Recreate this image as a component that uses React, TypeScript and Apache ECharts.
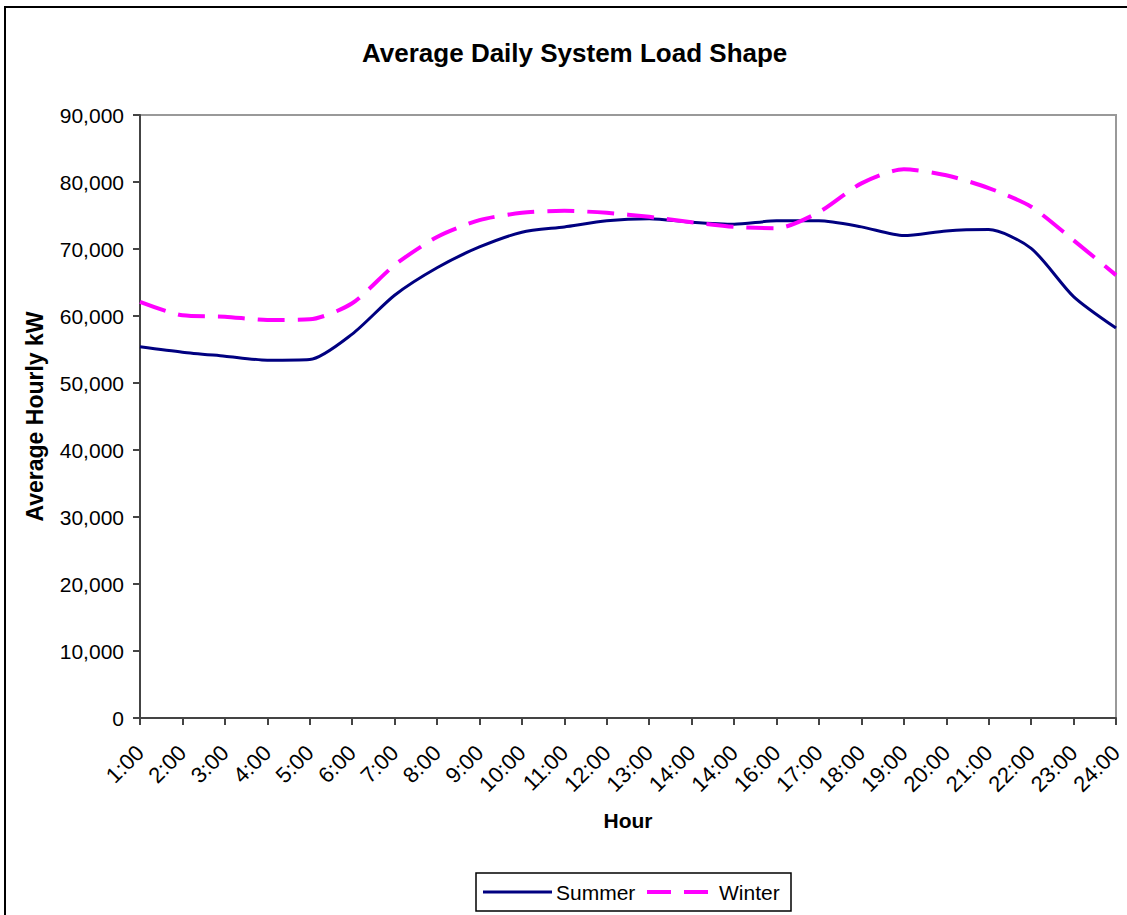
import React, { useEffect, useRef } from "react";
import * as echarts from "echarts";

const hours = [
  "1:00", "2:00", "3:00", "4:00", "5:00", "6:00", "7:00", "8:00", "9:00", "10:00",
  "11:00", "12:00", "13:00", "14:00", "14:00", "16:00", "17:00", "18:00", "19:00",
  "20:00", "21:00", "22:00", "23:00", "24:00",
];

const summer = [
  55400, 54600, 54000, 53400, 53500, 57300, 63100, 67200, 70300, 72500,
  73300, 74200, 74500, 74000, 73700, 74200, 74200, 73300, 72000, 72700,
  72900, 70100, 62900, 58200,
];

const winter = [
  62100, 60100, 59900, 59400, 59500, 61900, 67600, 71800, 74300, 75400,
  75700, 75400, 74800, 74000, 73300, 73100, 75500, 79800, 81900, 81000,
  79100, 76300, 71300, 66100,
];

const yTicks = { min: 0, max: 90000, interval: 10000 };

const FONT = "Liberation Sans, Arial, sans-serif";

export default function App() {
  const ref = useRef<HTMLDivElement>(null);
  useEffect(() => {
    if (!ref.current) return;
    const chart = echarts.init(ref.current, undefined, { renderer: "svg" });
    const legendY = 892;
    chart.setOption({
      animation: false,
      backgroundColor: "#ffffff",
      textStyle: { fontFamily: FONT },
      title: {
        text: "Average Daily System Load Shape",
        left: 357,
        top: 35,
        textStyle: { fontFamily: FONT, fontSize: 26, fontWeight: "bold", color: "#000" },
      },
      grid: {
        left: 140,
        top: 115,
        right: 11,
        bottom: 197,
        show: true,
        borderColor: "#999999",
        borderWidth: 2,
        backgroundColor: "transparent",
      },
      xAxis: {
        type: "category",
        data: hours,
        boundaryGap: false,
        name: "Hour",
        nameLocation: "middle",
        nameGap: 92,
        nameTextStyle: { fontFamily: FONT, fontSize: 21, fontWeight: "bold", color: "#000" },
        axisLine: { lineStyle: { color: "#444", width: 2 } },
        axisTick: { show: true, length: 7, alignWithLabel: true, lineStyle: { color: "#444", width: 2 } },
        axisLabel: {
          rotate: 45,
          interval: 0,
          margin: 31,
          fontFamily: FONT,
          fontSize: 22,
          color: "#000",
        },
        splitLine: { show: false },
      },
      yAxis: {
        type: "value",
        min: yTicks.min,
        max: yTicks.max,
        interval: yTicks.interval,
        name: "Average Hourly kW",
        nameLocation: "middle",
        nameGap: 94,
        nameRotate: 90,
        nameTextStyle: { fontFamily: FONT, fontSize: 23, fontWeight: "bold", color: "#000" },
        axisLine: { show: true, lineStyle: { color: "#444", width: 2 } },
        axisTick: { show: true, length: 7, lineStyle: { color: "#444", width: 2 } },
        axisLabel: {
          margin: 16,
          fontFamily: FONT,
          fontSize: 21,
          color: "#000",
          formatter: (v: number) => v.toLocaleString("en-US"),
        },
        splitLine: { show: false },
      },
      series: [
        {
          name: "Summer",
          type: "line",
          data: summer,
          smooth: 0.25,
          symbol: "none",
          lineStyle: { color: "#000080", width: 3 },
          itemStyle: { color: "#000080" },
        },
        {
          name: "Winter",
          type: "line",
          data: winter,
          smooth: 0.25,
          symbol: "none",
          lineStyle: { color: "#ff00ff", width: 4, type: [27, 13] },
          itemStyle: { color: "#ff00ff" },
        },
      ],
      graphic: [
        {
          type: "rect",
          shape: { x: 5, y: 7, width: 1140, height: 920 },
          style: { fill: "none", stroke: "#000", lineWidth: 2 },
          silent: true,
        },
        {
          type: "rect",
          shape: { x: 476, y: 873, width: 315, height: 38 },
          style: { fill: "#fff", stroke: "#000", lineWidth: 1.5 },
          silent: true,
        },
        {
          type: "line",
          shape: { x1: 483, y1: legendY, x2: 552, y2: legendY },
          style: { stroke: "#000080", lineWidth: 3 },
        },
        {
          type: "text",
          x: 556,
          y: legendY,
          style: { text: "Summer", fontFamily: FONT, fontSize: 21, fill: "#000", verticalAlign: "middle", align: "left" },
        },
        {
          type: "line",
          shape: { x1: 647, y1: legendY, x2: 671, y2: legendY },
          style: { stroke: "#ff00ff", lineWidth: 4 },
        },
        {
          type: "line",
          shape: { x1: 684, y1: legendY, x2: 708, y2: legendY },
          style: { stroke: "#ff00ff", lineWidth: 4 },
        },
        {
          type: "text",
          x: 719,
          y: legendY,
          style: { text: "Winter", fontFamily: FONT, fontSize: 21, fill: "#000", verticalAlign: "middle", align: "left" },
        },
      ],
    });
    return () => chart.dispose();
  }, []);
  return <div ref={ref} style={{ width: 1127, height: 915, position: "absolute", left: 0, top: 0 }} />;
}
